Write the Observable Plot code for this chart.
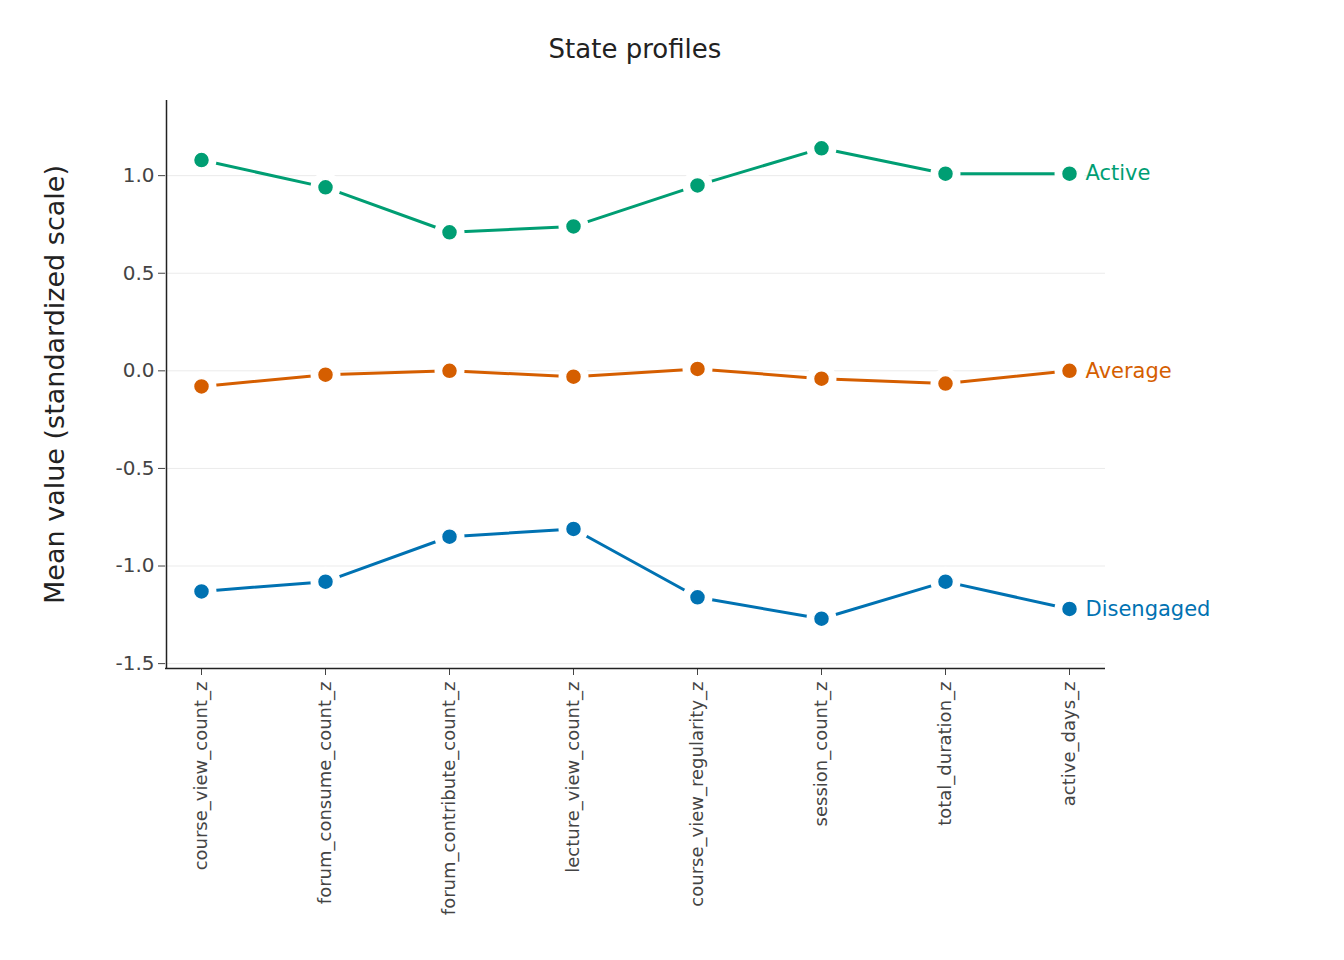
<!DOCTYPE html>
<html><head><meta charset="utf-8">
<script src="https://cdn.jsdelivr.net/npm/d3@7"></script>
<script src="https://cdn.jsdelivr.net/npm/@observablehq/plot@0.6"></script>
<style>
body{margin:0;background:#fff;font-family:"DejaVu Sans",sans-serif;overflow:hidden}
#title{height:80px;position:relative}
#title span{position:absolute;left:635px;top:34px;transform:translateX(-50%);font-size:26px;color:#222}
</style></head><body>
<div id="title"><span>State profiles</span></div>
<div id="chart"></div>
<script>
const variables = ["course_view_count_z","forum_consume_count_z","forum_contribute_count_z","lecture_view_count_z","course_view_regularity_z","session_count_z","total_duration_z","active_days_z"];
const states = ["Active","Average","Disengaged"];
const colors = ["#009E73","#D55E00","#0072B2"];
const active = [1.08,0.94,0.71,0.74,0.95,1.14,1.01,1.01];
const average = [-0.08,-0.02,0.00,-0.03,0.01,-0.04,-0.065,0.00];
const disengaged = [-1.13,-1.08,-0.85,-0.81,-1.16,-1.27,-1.08,-1.22];
const yTicks = [-1.5,-1.0,-0.5,0.0,0.5,1.0];
const series = [active, average, disengaged];
const data = [];
states.forEach((s,i)=>variables.forEach((v,j)=>data.push({state:s, variable:v, value:series[i][j]})));
const last = data.filter(d=>d.variable===variables[variables.length-1]);
const plot = Plot.plot({
  width:1344, height:880,
  marginTop:20, marginBottom:292, marginLeft:165, marginRight:239,
  style:{fontFamily:"DejaVu Sans, sans-serif", background:"#fff"},
  x:{type:"point", domain:variables, padding:0.28, label:null},
  y:{domain:[-1.525,1.385], label:null},
  color:{domain:states, range:colors},
  marks:[
    Plot.gridY(yTicks,{stroke:"#ebebeb", strokeOpacity:1, strokeWidth:1}),
    Plot.line(data,{x:"variable", y:"value", z:"state", stroke:"state", strokeWidth:3}),
    Plot.dot(data,{x:"variable", y:"value", fill:"white", r:15}),
    Plot.dot(data,{x:"variable", y:"value", fill:"state", stroke:"white", strokeWidth:1.5, r:8}),
    Plot.text(last,{x:"variable", y:"value", text:"state", fill:"state", dx:16, textAnchor:"start", fontSize:21}),
    Plot.axisY({ticks:yTicks, tickFormat:d=>d.toFixed(1), fontSize:20, color:"#444", tickSize:7, tickPadding:4, label:null}),
    Plot.axisX({tickRotate:-90, fontSize:18, color:"#444", tickSize:7, tickPadding:6, label:null}),
    Plot.ruleX([variables[0]],{dx:-35, y1:-1.525, y2:1.385, stroke:"#222", strokeWidth:1.5}),
    Plot.ruleY([-1.525],{stroke:"#222", strokeWidth:1.5}),
    Plot.text(["Mean value (standardized scale)"],{frameAnchor:"left", dx:-110, rotate:-90, textAnchor:"middle", fontSize:27, fill:"#222"})
  ]
});
document.getElementById("chart").appendChild(plot);
</script></body></html>
